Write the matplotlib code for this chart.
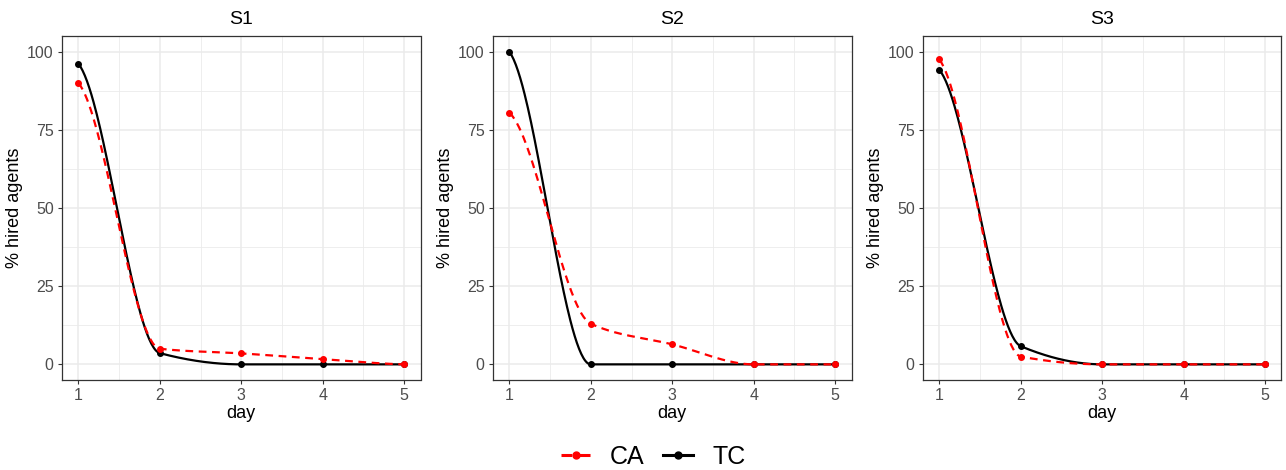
import matplotlib.pyplot as plt
from matplotlib.lines import Line2D
import numpy as np

plt.rcParams['font.family'] = ['Liberation Sans', 'DejaVu Sans']

days = [1, 2, 3, 4, 5]
panels = ["S1", "S2", "S3"]
# % hired agents per day
ca = {"S1": [90, 5, 3.5, 1.7, 0],
      "S2": [80.5, 13, 6.4, 0, 0],
      "S3": [97.5, 2.5, 0, 0, 0]}
tc = {"S1": [96.2, 3.6, 0, 0, 0],
      "S2": [100, 0, 0, 0, 0],
      "S3": [94.2, 5.8, 0, 0, 0]}


def smooth(x, y, n=300):
    # monotone cubic curve through the points, gentle slope at both ends
    x = np.asarray(x, float)
    y = np.asarray(y, float)
    h = np.diff(x)
    d = np.diff(y) / h
    m = np.zeros_like(y)
    for k in range(1, len(x) - 1):
        if d[k - 1] * d[k] > 0:
            w1 = 2 * h[k] + h[k - 1]
            w2 = h[k] + 2 * h[k - 1]
            m[k] = (w1 + w2) / (w1 / d[k - 1] + w2 / d[k])
    m[0] = 0.35 * d[0]
    m[-1] = 0.35 * d[-1]
    xs = np.linspace(x[0], x[-1], n)
    idx = np.clip(np.searchsorted(x, xs) - 1, 0, len(x) - 2)
    t = (xs - x[idx]) / h[idx]
    h00 = 2 * t**3 - 3 * t**2 + 1
    h10 = t**3 - 2 * t**2 + t
    h01 = -2 * t**3 + 3 * t**2
    h11 = t**3 - t**2
    ys = h00 * y[idx] + h10 * h[idx] * m[idx] + h01 * y[idx + 1] + h11 * h[idx] * m[idx + 1]
    return xs, ys


fig = plt.figure(figsize=(12.86, 4.7), dpi=100)
lefts = [62, 493, 923]
for i, name in enumerate(panels):
    ax = fig.add_axes([lefts[i] / 1286, 90 / 470, 358.5 / 1286, 344 / 470])
    ax.set_xlim(0.8, 5.2)
    ax.set_ylim(-5, 105)
    ax.set_xticks(days)
    ax.set_yticks([0, 25, 50, 75, 100])
    ax.set_xticks([1.5, 2.5, 3.5, 4.5], minor=True)
    ax.set_yticks([12.5, 37.5, 62.5, 87.5], minor=True)
    ax.grid(which='major', color='#EBEBEB', lw=1.1)
    ax.grid(which='minor', color='#EBEBEB', lw=0.6)
    ax.set_axisbelow(True)
    for s in ax.spines.values():
        s.set_color('#333333')
        s.set_linewidth(0.9)
    ax.tick_params(which='major', length=3, width=0.8, color='#333333',
                   labelsize=11.5, labelcolor='#4D4D4D', pad=3)
    ax.tick_params(which='minor', length=0)

    xs, ys = smooth(days, tc[name])
    ax.plot(xs, ys, color='black', lw=1.6, zorder=3)
    ax.plot(days, tc[name], 'o', color='black', ms=4, zorder=3)
    xs, ys = smooth(days, ca[name])
    ax.plot(xs, ys, color='#FF0000', lw=1.6, dashes=(3.5, 2.5), zorder=4)
    ax.plot(days, ca[name], 'o', color='#FF0000', ms=4, zorder=4)

    ax.set_title(name, fontsize=14, pad=9)
    ax.set_xlabel("day", fontsize=13, labelpad=1)
    ax.set_ylabel("% hired agents", fontsize=13, labelpad=3)

handles = [Line2D([0], [0], color='#FF0000', lw=2.2, dashes=(3.5, 2.5), marker='o', ms=5),
           Line2D([0], [0], color='black', lw=2.2, marker='o', ms=5)]
fig.legend(handles, ["CA", "TC"], loc='center', bbox_to_anchor=(0.508, 0.028),
           ncol=2, frameon=False, fontsize=18, handlelength=1.2,
           columnspacing=0.75, handletextpad=0.75)

fig.savefig("out.png", dpi=100)
